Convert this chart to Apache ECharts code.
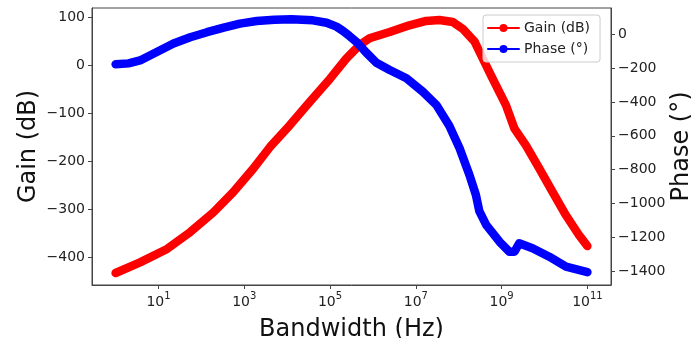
<!DOCTYPE html>
<html><head><meta charset="utf-8">
<script src="https://cdn.jsdelivr.net/npm/echarts@6/dist/echarts.min.js"></script>
<style>html,body{margin:0;padding:0;background:#fff}#c{width:691px;height:338px}</style>
</head><body><div id="c"></div>
<script>
// frequency given as log10(Hz)
const gainExp = [0, 0.57, 1.2, 1.74, 2.28, 2.74, 3.21, 3.6, 4.06, 4.53, 5.0, 5.38, 5.69, 5.92, 6.39, 6.85, 7.24, 7.55, 7.86, 8.09, 8.37, 8.56, 8.79, 9.1, 9.3, 9.57, 9.88, 10.19, 10.5, 10.81, 11.0];
const gainDb = [-432, -410, -382, -347, -306, -264, -215, -170, -125, -76, -28, 14, 42, 56, 69, 83, 92, 94, 90, 76, 49, 14, -28, -83, -132, -167, -215, -264, -312, -354, -376];
const phaseExp = [0, 0.3, 0.57, 0.96, 1.35, 1.74, 2.13, 2.52, 2.9, 3.29, 3.7, 4.1, 4.6, 4.92, 5.15, 5.3, 5.45, 5.61, 5.85, 6.08, 6.39, 6.78, 7.16, 7.48, 7.78, 8.02, 8.25, 8.4, 8.48, 8.64, 8.95, 9.18, 9.3, 9.41, 9.72, 10.11, 10.5, 11.0];
const phaseDeg = [-177, -172, -155, -105, -55, -18, 12, 39, 63, 78, 86, 88, 82, 68, 45, 20, -10, -44, -110, -168, -211, -260, -339, -418, -540, -673, -831, -949, -1045, -1126, -1225, -1284, -1284, -1235, -1264, -1314, -1373, -1405];
const xTickExps = [1, 3, 5, 7, 9, 11];
const gainTicks = [-400, -300, -200, -100, 0, 100];
const phaseTicks = [-1400, -1200, -1000, -800, -600, -400, -200, 0];
const seriesNames = ['Gain (dB)', 'Phase (\u00b0)'];

const FONT = 'DejaVu Sans';
const fmtNum = v => v < 0 ? '\u2212' + (-v) : String(v);
const zip = (a, b) => a.map((x, i) => [x, b[i]]);

const chart = echarts.init(document.getElementById('c'), null, {renderer: 'canvas'});
const axisCommon = {
  axisLine: {show: true, onZero: false, lineStyle: {color: '#444', width: 1}},
  splitLine: {show: false},
  nameMoveOverlap: false,
  nameTextStyle: {fontFamily: FONT, fontSize: 24, color: '#111'}
};
chart.setOption({
  animation: false,
  backgroundColor: '#fff',
  grid: {left: 92, right: 80, top: 8, bottom: 53, outerBoundsMode: 'none', containLabel: false,
         show: true, borderColor: '#444', borderWidth: 1, backgroundColor: 'transparent'},
  legend: {
    data: seriesNames, orient: 'vertical', left: 483, top: 15,
    itemWidth: 31, itemHeight: 10, itemGap: 5, padding: [5, 10, 5, 4],
    backgroundColor: 'rgba(255,255,255,0.8)', borderColor: '#ccc', borderWidth: 1, borderRadius: 3,
    textStyle: {fontFamily: FONT, fontSize: 14, lineHeight: 16, color: '#222'}
  },
  xAxis: Object.assign({}, axisCommon, {
    type: 'value', min: -0.55, max: 11.55,
    name: 'Bandwidth (Hz)', nameLocation: 'middle', nameGap: 33,
    axisTick: {show: true, length: 4, lineStyle: {color: '#444'}, customValues: xTickExps},
    axisLabel: {
      customValues: xTickExps, margin: 6,
      formatter: v => '{b|10}{s|' + v + '}',
      rich: {
        b: {fontFamily: FONT, fontSize: 14, color: '#222', lineHeight: 18, verticalAlign: 'bottom'},
        s: {fontFamily: FONT, fontSize: 10, color: '#222', lineHeight: 18, verticalAlign: 'top'}
      }
    }
  }),
  yAxis: [
    Object.assign({}, axisCommon, {
      type: 'value', min: -457, max: 119, position: 'left',
      name: 'Gain (dB)', nameLocation: 'middle', nameGap: 51, nameRotate: 90,
      axisTick: {show: true, length: 4, lineStyle: {color: '#444'}, customValues: gainTicks},
      axisLabel: {customValues: gainTicks, margin: 7, formatter: fmtNum, fontFamily: FONT, fontSize: 14, color: '#222'}
    }),
    Object.assign({}, axisCommon, {
      type: 'value', min: -1481, max: 155, position: 'right',
      name: 'Phase (\u00b0)', nameLocation: 'middle', nameGap: 59, nameRotate: 90,
      axisTick: {show: true, length: 4, lineStyle: {color: '#444'}, customValues: phaseTicks},
      axisLabel: {customValues: phaseTicks, margin: 7, formatter: fmtNum, fontFamily: FONT, fontSize: 14, color: '#222'}
    })
  ],
  series: [
    {
      name: seriesNames[0], type: 'line', xAxisIndex: 0, yAxisIndex: 0,
      data: zip(gainExp, gainDb), symbol: 'circle', symbolSize: 9, showSymbol: false,
      color: '#ff0000', lineStyle: {width: 8.5, cap: 'round', join: 'round', color: '#ff0000'}, z: 2
    },
    {
      name: seriesNames[1], type: 'line', xAxisIndex: 0, yAxisIndex: 1,
      data: zip(phaseExp, phaseDeg), symbol: 'circle', symbolSize: 9, showSymbol: false,
      color: '#0000ff', lineStyle: {width: 8.5, cap: 'round', join: 'round', color: '#0000ff'}, z: 3
    }
  ]
});
</script>
</body></html>
